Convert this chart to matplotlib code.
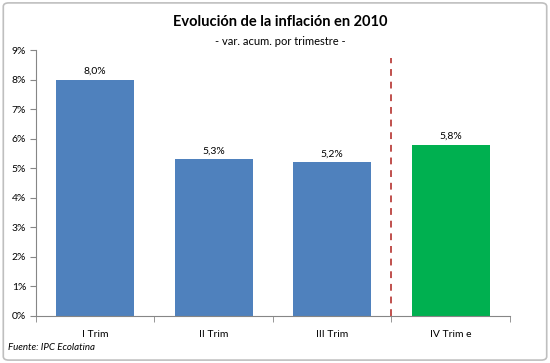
import matplotlib
matplotlib.use("Agg")
import matplotlib.pyplot as plt
from matplotlib.patches import FancyBboxPatch
from matplotlib.ticker import FuncFormatter

categories = ["I Trim", "II Trim", "III Trim", "IV Trim e"]
values = [8.0, 5.3, 5.2, 5.8]
labels = ["8,0%", "5,3%", "5,2%", "5,8%"]
colors = ["#4F81BD", "#4F81BD", "#4F81BD", "#00B050"]
yticks = list(range(0, 10))

plt.rcParams['font.family'] = ['Lato', 'DejaVu Sans']

fig = plt.figure(figsize=(5.5, 3.63), dpi=100)
fig.patch.set_facecolor("white")
border = FancyBboxPatch((0.006, 0.008), 0.988, 0.984, boxstyle="round,pad=0,rounding_size=0.01",
                        transform=fig.transFigure, facecolor="none", edgecolor="#BFBFBF", lw=1.2)
fig.patches.append(border)

ax = fig.add_axes([0.0655, 0.1295, 0.8615, 0.7325])
x = list(range(len(categories)))
ax.bar(x, values, width=0.66, color=colors, zorder=2)
for xi, v, lab in zip(x, values, labels):
    ax.text(xi, v + 0.12, lab, ha="center", va="bottom", fontsize=7.5, color="black")

ax.set_xlim(-0.5, len(categories) - 0.5)
ax.set_ylim(0, 9)
ax.set_yticks(yticks)
ax.yaxis.set_major_formatter(FuncFormatter(lambda v, p: f"{int(v)}%"))
ax.set_xticks(x)
ax.set_xticklabels(categories)
ax.set_xticks([i - 0.5 for i in range(len(categories) + 1)], minor=True)
ax.tick_params(axis="x", which="major", length=0, pad=10, labelsize=7.5)
ax.tick_params(axis="x", which="minor", length=4, color="#868686", direction="out")
ax.tick_params(axis="y", length=4, color="#868686", direction="out", labelsize=7.5, pad=3)

for s in ["top", "right"]:
    ax.spines[s].set_visible(False)
for s in ["left", "bottom"]:
    ax.spines[s].set_color("#868686")
    ax.spines[s].set_linewidth(0.8)

ax.axvline(2.5, ymin=0, ymax=0.97, color="#C0504D", lw=1.4, ls=(0, (3.5, 3)), zorder=3)

fig.text(0.51, 0.94, "Evolución de la inflación en 2010", ha="center", va="center",
         fontsize=10.5, fontweight="bold")
fig.text(0.51, 0.885, "- var. acum. por trimestre -", ha="center", va="center", fontsize=8)
fig.text(0.015, 0.042, "Fuente: IPC Ecolatina", ha="left", va="center", fontsize=7, style="italic")

fig.savefig("out.png", dpi=100, facecolor="white")
